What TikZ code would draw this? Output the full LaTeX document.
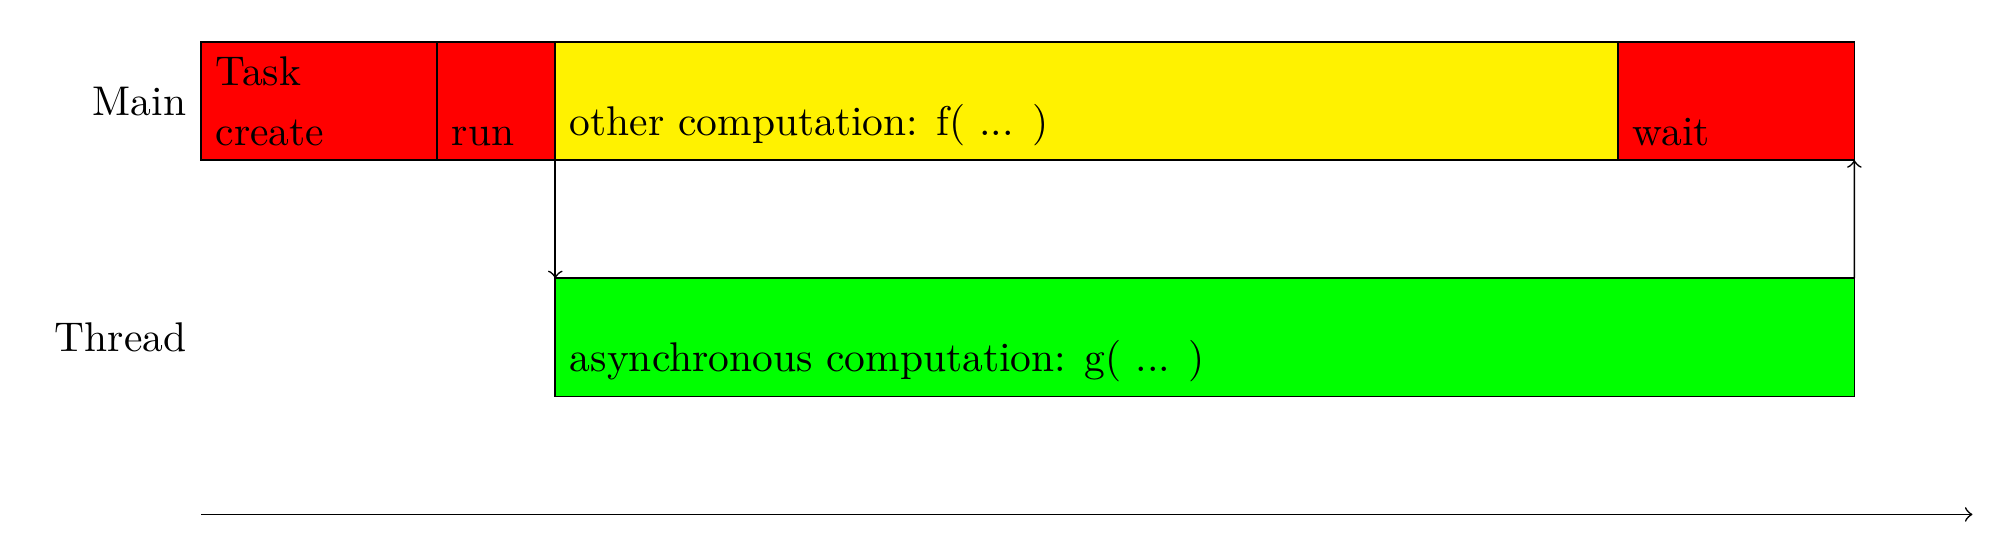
\documentclass[tikz,border=0pt]{standalone}
\definecolor{myyellow}{RGB}{255,242,0}
\definecolor{myred}{RGB}{255,0,0}
\definecolor{mygreen}{RGB}{0,255,0}
\tikzset{
  box/.style={draw, rectangle, anchor=north west, inner sep=0pt, outer sep=0pt, minimum height=1cm},
  lbl/.style={inner sep=0.3333em},
}
\begin{document}
\begin{tikzpicture}
\useasboundingbox (-1.702,0.356) rectangle (15.36,-4.36);
% main row
\node[box, fill=myred, minimum width=2cm] (create) at (0,0) {};
\node[box, fill=myred, minimum width=1cm] (run) at (2,0) {};
\node[box, fill=myyellow, minimum width=9cm] (other) at (3,0) {};
\node[box, fill=myred, minimum width=2cm] (wait) at (12,0) {};
% thread row
\node[box, fill=mygreen, minimum width=11cm] (async) at (3,-2) {};
% texts
\node[lbl, anchor=north west] (tasktxt) at (create.north west) {Task};
\node[lbl, anchor=south west] (createtxt) at (create.south west) {create};
\node[lbl, anchor=south west] (runtxt) at (run.south west) {run};
\node[lbl, anchor=south west] (othertxt) at (other.south west) {other computation: f( ... )};
\node[lbl, anchor=south west] (waittxt) at (wait.south west) {wait};
\node[lbl, anchor=south west] (asynctxt) at (async.south west) {asynchronous computation: g( ... )};
% row labels
\node[lbl, anchor=east] (main) at (0,-0.5) {Main};
\node[lbl, anchor=east] (thread) at (0,-2.5) {Thread};
% connectors
\draw[->] (other.south west) -- (async.north west);
\draw[->] (async.north east) -- (wait.south east);
% time axis
\coordinate (t0) at (0,-4);
\coordinate (t1) at (15,-4);
\draw[->] (t0) -- (t1);
\end{tikzpicture}
\end{document}
